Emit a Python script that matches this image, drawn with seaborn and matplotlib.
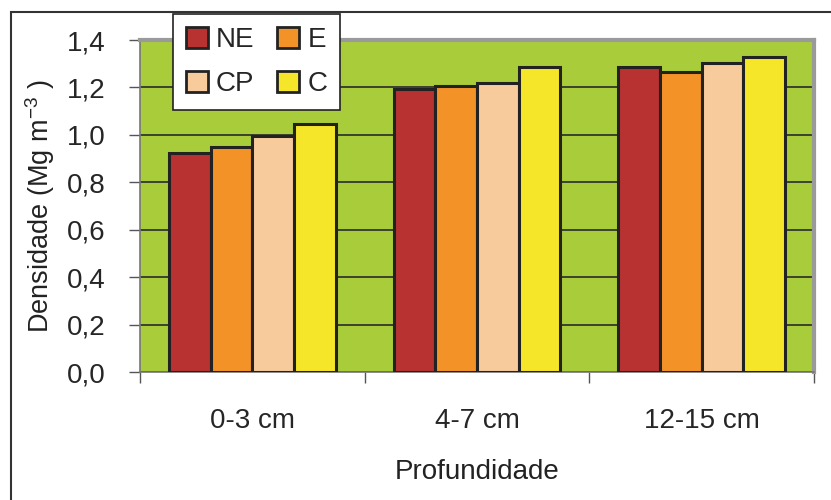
import pandas as pd
import matplotlib
matplotlib.use("Agg")
from matplotlib import pyplot as plt
from matplotlib.patches import Rectangle
import seaborn as sns

profundidades = ["0-3 cm", "4-7 cm", "12-15 cm"]
tratamentos = ["NE", "E", "CP", "C"]
dens_NE = [0.924, 1.194, 1.286]
dens_E = [0.949, 1.206, 1.265]
dens_CP = [0.995, 1.219, 1.303]
dens_C = [1.046, 1.286, 1.328]
yticks = [0.0, 0.2, 0.4, 0.6, 0.8, 1.0, 1.2, 1.4]

cores = ["#B83232", "#F39327", "#F8CB9D", "#F6E629"]

df = pd.DataFrame({
    "prof": profundidades * 4,
    "trat": [t for t in tratamentos for _ in profundidades],
    "dens": dens_NE + dens_E + dens_CP + dens_C,
})

sns.set_style("white")
plt.rcParams["font.family"] = ["Liberation Sans", "DejaVu Sans"]
plt.rcParams["mathtext.fontset"] = "custom"
plt.rcParams["mathtext.rm"] = "Liberation Sans"
plt.rcParams["mathtext.it"] = "Liberation Sans"

fig = plt.figure(figsize=(8.31, 5), dpi=100)
ax = fig.add_axes([140 / 831, 128 / 500, 674 / 831, 332 / 500])
ax.set_facecolor("#A9CD3A")

# moldura da figura
fig.patches.append(Rectangle((11 / 831, -0.1), 1.2, 1.1 - 12 / 500,
                             transform=fig.transFigure, fill=False,
                             edgecolor="#333333", linewidth=1.5))

sns.barplot(data=df, x="prof", y="dens", hue="trat", order=profundidades,
            hue_order=tratamentos, palette=cores, width=0.743, saturation=1,
            edgecolor="#222222", linewidth=2.2, ax=ax, zorder=3, legend=False)

ax.set_xlim(-0.5, 2.5)
ax.set_ylim(0, 1.4)
ax.set_yticks(yticks)
ax.set_yticklabels([f"{v:.1f}".replace(".", ",") for v in yticks])
ax.yaxis.grid(True, color="#2a2a2a", linewidth=1.2, zorder=1)
ax.set_axisbelow(True)
ax.tick_params(axis="y", left=True, length=8, width=1, color="#555555",
               labelsize=20, pad=17)
ax.set_xticks([-0.5, 0.5, 1.5, 2.5])
ax.set_xticks([0, 1, 2], minor=True)
ax.set_xticklabels([])
ax.set_xticklabels(profundidades, minor=True)
ax.tick_params(axis="x", which="major", bottom=True, length=8, width=1,
               color="#555555")
ax.tick_params(axis="x", which="minor", bottom=False, labelsize=20, pad=24)

for lado in ["left", "bottom"]:
    ax.spines[lado].set_color("#777777")
    ax.spines[lado].set_linewidth(1.2)
for lado in ["top", "right"]:
    ax.spines[lado].set_color("#9a9a9a")
    ax.spines[lado].set_linewidth(3)

ax.set_xlabel("Profundidade", fontsize=20, labelpad=18, color="#222222")
ax.set_ylabel("Densidade (Mg m$^{-3}$ )", fontsize=19.5, labelpad=7,
              color="#222222")

handles = [Rectangle((0, 0), 1, 1, facecolor=c, edgecolor="#222222",
                     linewidth=2) for c in cores]
ordem = [0, 2, 1, 3]
leg = fig.legend([handles[i] for i in ordem], [tratamentos[i] for i in ordem],
                 loc="upper left", bbox_to_anchor=(173 / 831, 1 - 14 / 500),
                 ncol=2, fontsize=20, frameon=True, fancybox=False,
                 framealpha=1, borderaxespad=0, handlelength=0.8,
                 handleheight=0.8, handletextpad=0.3, columnspacing=0.8,
                 labelspacing=0.65, borderpad=0.45)
leg.get_frame().set_edgecolor("#222222")
leg.get_frame().set_linewidth(1.2)

fig.savefig("out.png", dpi=100)
